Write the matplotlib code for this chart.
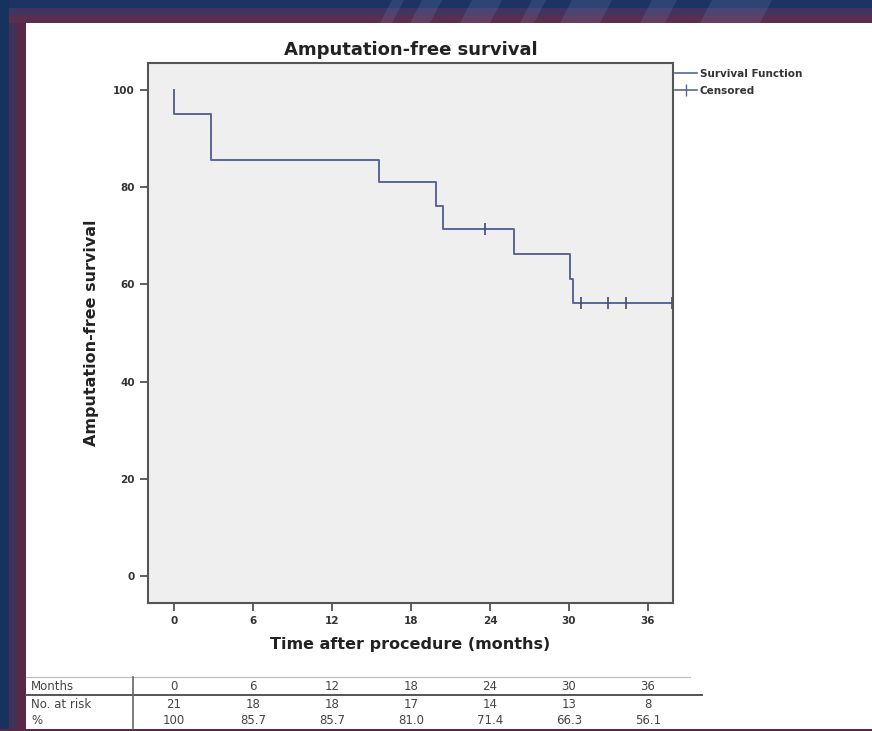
import matplotlib.pyplot as plt
import matplotlib.transforms as mtransforms
from matplotlib.patches import Rectangle, Polygon
from matplotlib.lines import Line2D

# Kaplan-Meier step points (months, % survival)
step_months = [0, 0, 2.8, 15.6, 19.9, 20.4, 25.8, 30.1, 30.3, 37.8]
step_surv = [100, 95.2, 85.7, 81.0, 76.2, 71.4, 66.3, 61.2, 56.1, 56.1]

# censored observations
cens_months = [23.6, 30.9, 33.0, 34.3, 37.8]
cens_surv = [71.4, 56.1, 56.1, 56.1, 56.1]

x_ticks = [0, 6, 12, 18, 24, 30, 36]
y_ticks = [0, 20, 40, 60, 80, 100]

# number-at-risk table
table_months = ['0', '6', '12', '18', '24', '30', '36']
at_risk = ['21', '18', '18', '17', '14', '13', '8']
pct = ['100', '85.7', '85.7', '81.0', '71.4', '66.3', '56.1']
row_names = ['Months', 'No. at risk', '%']

W, H = 872, 731
fig = plt.figure(figsize=(W / 100, H / 100), dpi=100)
fig.patch.set_facecolor('white')

def fy(py):
    # pixel row -> figure fraction
    return 1 - py / H

# slide border (dark navy / purple bands)
for (x0, y0, w, h, c) in [
    (0, 0, W, 8, '#1d3462'),
    (0, 8, W, 7, '#3f3560'),
    (0, 15, W, 8, '#5b2d4f'),
    (0, 0, 9, H, '#17325f'),
    (9, 23, 8, H, '#3f3158'),
    (17, 23, 9, H, '#5a2747'),
    (0, 729, W, 2, '#5a2747'),
]:
    fig.add_artist(Rectangle((x0 / W, fy(y0 + h)), w / W, h / H,
                             transform=fig.transFigure, color=c, lw=0, zorder=0))
# faint diagonal streaks in the top band
for x0, w in [(380, 12), (410, 20), (460, 30), (520, 14), (560, 40), (640, 25), (700, 60)]:
    pts = [((x0 + 12) / W, fy(0)), ((x0 + 12 + w) / W, fy(0)),
           ((x0 + w) / W, fy(23)), (x0 / W, fy(23))]
    fig.add_artist(Polygon(pts, closed=True, transform=fig.transFigure,
                           color='#8090c0', alpha=0.18, lw=0, zorder=0))

ax = fig.add_axes([148 / W, fy(603), 525 / W, 540 / H])
ax.set_facecolor('#efefef')

line_col = '#56679a'
ax.step(step_months, step_surv, where='post', color=line_col, lw=1.4)
ax.plot(cens_months, cens_surv, ls='none', marker='|', ms=8, mew=1.2,
        color='#3c4a78')

ax.set_xlim(-1.97, 37.9)
ax.set_ylim(-5.6, 105.6)
ax.set_xticks(x_ticks)
ax.set_yticks(y_ticks)
ax.tick_params(direction='out', length=6, width=1.2, color='#444444',
               labelsize=7.5, labelcolor='#333333')
for lab in ax.get_xticklabels() + ax.get_yticklabels():
    lab.set_fontweight('bold')
for sp in ax.spines.values():
    sp.set_color('#555555')
    sp.set_linewidth(1.5)

ax.set_title('Amputation-free survival', fontsize=13, fontweight='bold',
             color='#222222', pad=6)
ax.set_xlabel('Time after procedure (months)', fontsize=11.5,
              fontweight='bold', color='#222222', labelpad=8)
ax.set_ylabel('Amputation-free survival', fontsize=11.5, fontweight='bold',
              color='#222222', labelpad=10)

handles = [Line2D([], [], color=line_col, lw=1.2),
           Line2D([], [], color=line_col, lw=1.2, marker='|', ms=8)]
leg = ax.legend(handles, ['Survival Function', 'Censored'],
                loc='upper left', bbox_to_anchor=(0.995, 0.997),
                frameon=False, handlelength=2.2, handletextpad=0.2,
                labelspacing=0.65, borderaxespad=0,
                prop={'size': 7.5, 'weight': 'bold'})
for t in leg.get_texts():
    t.set_color('#333333')

# table under the plot
blend = mtransforms.blended_transform_factory(ax.transData, fig.transFigure)
row_y = [687, 704, 721]
for name, py in zip(row_names, row_y):
    fig.text(31 / W, fy(py), name, fontsize=8.5, color='#444444',
             va='center', ha='left')
for vals, py in zip([table_months, at_risk, pct], row_y):
    for xv, v in zip(x_ticks, vals):
        fig.text(xv, fy(py), v, transform=blend, fontsize=8.5,
                 color='#444444', va='center', ha='center')

fig.add_artist(Line2D([26 / W, 690 / W], [fy(677), fy(677)],
                      transform=fig.transFigure, color='#bbbbbb', lw=0.8))
fig.add_artist(Line2D([26 / W, 702 / W], [fy(695), fy(695)],
                      transform=fig.transFigure, color='#555555', lw=1.4))
fig.add_artist(Line2D([133 / W, 133 / W], [fy(677), fy(729)],
                      transform=fig.transFigure, color='#666666', lw=1.2))

fig.savefig('out.png', dpi=100)
